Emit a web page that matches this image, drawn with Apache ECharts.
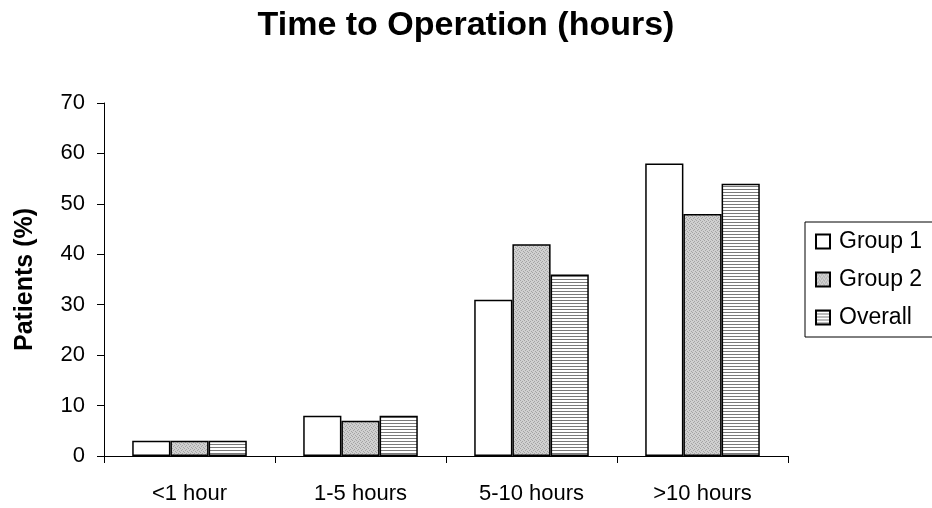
<!DOCTYPE html>
<html><head><meta charset="utf-8">
<script src="https://cdn.jsdelivr.net/npm/echarts@6/dist/echarts.min.js"></script>
<style>html,body{margin:0;padding:0;background:#fff}#c{width:932px;height:508px}</style>
</head><body><div id="c"></div>
<script>
const categories = ['<1 hour', '1-5 hours', '5-10 hours', '>10 hours'];
const group1 = [3, 8, 31, 58];
const group2 = [3, 7, 42, 48];
const overall = [3, 8, 36, 54];
const yTicks = [0, 10, 20, 30, 40, 50, 60, 70];

function dotPattern() {
  const c = document.createElement('canvas'); c.width = 4; c.height = 4;
  const g = c.getContext('2d');
  g.fillStyle = '#d0d0d0'; g.fillRect(0, 0, 4, 4);
  g.fillStyle = '#a4a4a4';
  g.fillRect(0, 0, 1, 1); g.fillRect(2, 1, 1, 1); g.fillRect(1, 2, 1, 1); g.fillRect(3, 3, 1, 1);
  return c;
}
function stripePattern() {
  const c = document.createElement('canvas'); c.width = 4; c.height = 3;
  const g = c.getContext('2d');
  g.fillStyle = '#ffffff'; g.fillRect(0, 0, 4, 3);
  g.fillStyle = '#7a7a7a'; g.fillRect(0, 0, 4, 1);
  return c;
}
const fills = ['#ffffff', { image: dotPattern(), repeat: 'repeat' }, { image: stripePattern(), repeat: 'repeat' }];
const names = ['Group 1', 'Group 2', 'Overall'];
const datas = [group1, group2, overall];

const chart = echarts.init(document.getElementById('c'));
const font = '"Liberation Sans", Arial, sans-serif';
chart.setOption({
  animation: false,
  textStyle: { fontFamily: font },
  title: {
    text: 'Time to Operation (hours)', left: 'center', top: 4,
    textStyle: { fontFamily: font, fontSize: 34, fontWeight: 'bold', color: '#000' }
  },
  legend: {
    orient: 'vertical', left: 805, top: 222,
    padding: [8, 60, 8, 10], itemGap: 15,
    borderColor: '#000', borderWidth: 1,
    itemWidth: 14, itemHeight: 14, icon: 'rect',
    textStyle: { fontFamily: font, fontSize: 23, color: '#000', padding: [0, 0, 0, 4] },
    data: names
  },
  grid: { left: 104, right: 144, top: 103, bottom: 52, containLabel: false, outerBoundsMode: 'none' },
  xAxis: {
    type: 'category', data: categories,
    axisLine: { lineStyle: { color: '#000', width: 1 } },
    axisTick: { show: true, length: 7, lineStyle: { color: '#000' } },
    axisLabel: { color: '#000', fontSize: 22, fontFamily: font, margin: 27 }
  },
  yAxis: {
    type: 'value', min: 0, max: 70, interval: 10,
    name: 'Patients (%)', nameLocation: 'middle', nameGap: 66, nameRotate: 90,
    nameTextStyle: { fontFamily: font, fontSize: 25, fontWeight: 'bold', color: '#000' },
    axisLine: { show: true, lineStyle: { color: '#000', width: 1 } },
    axisTick: { show: true, length: 7, lineStyle: { color: '#000' } },
    splitLine: { show: false },
    axisLabel: { color: '#000', fontSize: 22, fontFamily: font, margin: 19,
      formatter: v => yTicks.includes(v) ? String(v) : '' }
  },
  series: names.map((n, i) => ({
    name: n, type: 'bar', data: datas[i],
    barGap: '0%', barCategoryGap: '33%',
    itemStyle: { color: fills[i], borderColor: '#000', borderWidth: 1.5 }
  }))
});
</script></body></html>
